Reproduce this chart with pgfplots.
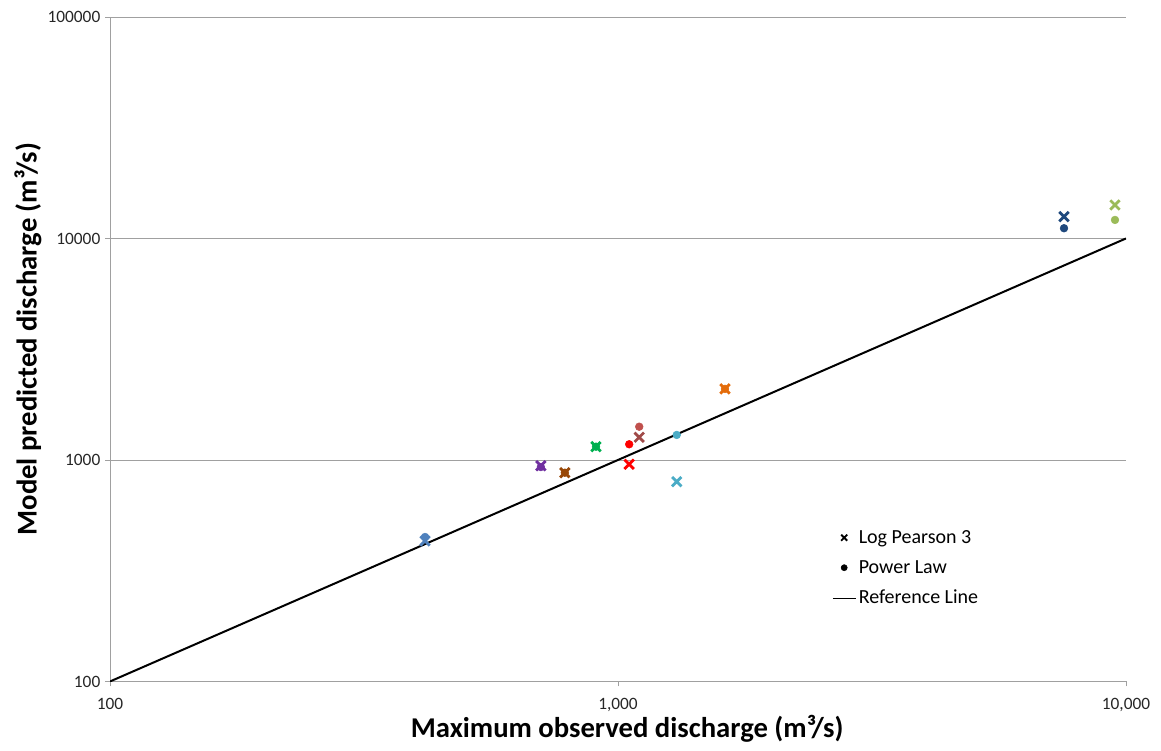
\documentclass[border=0pt]{standalone}
\usepackage{fontspec}
\setmainfont{Carlito}
\usepackage{pgfplots}
\pgfplotsset{compat=1.18}
\definecolor{gridgray}{HTML}{A0A0A0}
\definecolor{cblue}{HTML}{4F81BD}
\definecolor{cpurple}{HTML}{7030A0}
\definecolor{cbrown}{HTML}{984807}
\definecolor{cgreen}{HTML}{00B050}
\definecolor{cred}{HTML}{FF0000}
\definecolor{croseX}{HTML}{A04A48}
\definecolor{crose}{HTML}{C0504D}
\definecolor{clblue}{HTML}{4BACC6}
\definecolor{corange}{HTML}{E46C0A}
\definecolor{cnavy}{HTML}{1F497D}
\definecolor{clgreen}{HTML}{9BBB59}
\begin{document}
\begin{tikzpicture}
\begin{loglogaxis}[
  scale only axis, width=762pt, height=498.4pt,
  xmin=100, xmax=10000, ymin=100, ymax=100000,
  axis lines=left,
  axis line style={-, draw=gridgray},
  every non boxed x axis/.append style={x axis line style=-},
  every non boxed y axis/.append style={y axis line style=-},
  xtick={100,1000,10000}, xticklabels={100,{1,000},{10,000}},
  ytick={100,1000,10000,100000}, yticklabels={100,1000,10000,100000},
  xminorticks=false, yminorticks=false,
  ymajorgrids, major grid style={gridgray, line width=0.6pt},
  tick align=outside, major tick length=3.75pt,
  tick style={gridgray, line width=0.6pt},
  ticklabel style={font=\fontsize{13}{15}\selectfont, text=black!85},
  xticklabel style={yshift=-5.5pt},
  xlabel={Maximum observed discharge (m³/s)},
  ylabel={Model predicted discharge (m³/s)},
  xlabel style={font=\bfseries\fontsize{21.5}{25}\selectfont, at={(axis description cs:0.509,-0.0714)}, anchor=center},
  ylabel style={font=\bfseries\fontsize{21.5}{25}\selectfont, at={(axis description cs:-0.0807,0.515)}, anchor=center},
  legend style={draw=none, fill=none, at={(axis description cs:0.7067,0.236)}, anchor=north west,
    font=\fontsize{15}{17}\selectfont, row sep=7.3pt},
  legend cell align=left,
]
% legend entries
\addlegendimage{only marks, mark=x, mark size=3.2pt, black, line width=1.4pt}
\addlegendentry{Log Pearson 3}
\addlegendimage{only marks, mark=*, mark size=2.3pt, black}
\addlegendentry{Power Law}
\addlegendimage{black, line width=0.8pt}
\addlegendentry{Reference Line}
% reference line
\addplot[black, line width=1.5pt, forget plot] coordinates {(100,100) (10000,10000)};
% Power Law (circles)
\pgfplotsset{pl/.style={only marks, mark=*, mark size=2.9pt, forget plot}}
\addplot[pl, cblue, mark options={fill=cblue, draw=cblue}] coordinates {(417,449)};
\addplot[pl, cpurple, mark options={fill=cpurple, draw=cpurple}] coordinates {(705,929)};
\addplot[pl, cbrown, mark options={fill=cbrown, draw=cbrown}] coordinates {(786,876)};
\addplot[pl, cgreen, mark options={fill=cgreen, draw=cgreen}] coordinates {(905,1148)};
\addplot[pl, cred, mark options={fill=cred, draw=cred}] coordinates {(1052,1177)};
\addplot[pl, crose, mark options={fill=crose, draw=crose}] coordinates {(1101,1413)};
\addplot[pl, clblue, mark options={fill=clblue, draw=clblue}] coordinates {(1305,1297)};
\addplot[pl, corange, mark options={fill=corange, draw=corange}] coordinates {(1624,2093)};
\addplot[pl, cnavy, mark options={fill=cnavy, draw=cnavy}] coordinates {(7551,11120)};
\addplot[pl, clgreen, mark options={fill=clgreen, draw=clgreen}] coordinates {(9513,12120)};
% Log Pearson 3 (crosses)
\pgfplotsset{lp/.style={only marks, mark=x, mark size=5pt, line width=2.1pt, forget plot}}
\addplot[lp, cblue] coordinates {(417,431)};
\addplot[lp, cpurple] coordinates {(705,942)};
\addplot[lp, cbrown] coordinates {(786,876)};
\addplot[lp, cgreen] coordinates {(905,1148)};
\addplot[lp, cred] coordinates {(1052,956)};
\addplot[lp, croseX] coordinates {(1101,1266)};
\addplot[lp, clblue] coordinates {(1305,798)};
\addplot[lp, corange] coordinates {(1624,2093)};
\addplot[lp, cnavy] coordinates {(7551,12546)};
\addplot[lp, clgreen] coordinates {(9513,14160)};
\end{loglogaxis}
\path (-82.5pt,-52.1pt) rectangle (788.25pt,511.1pt);
\end{tikzpicture}
\end{document}
